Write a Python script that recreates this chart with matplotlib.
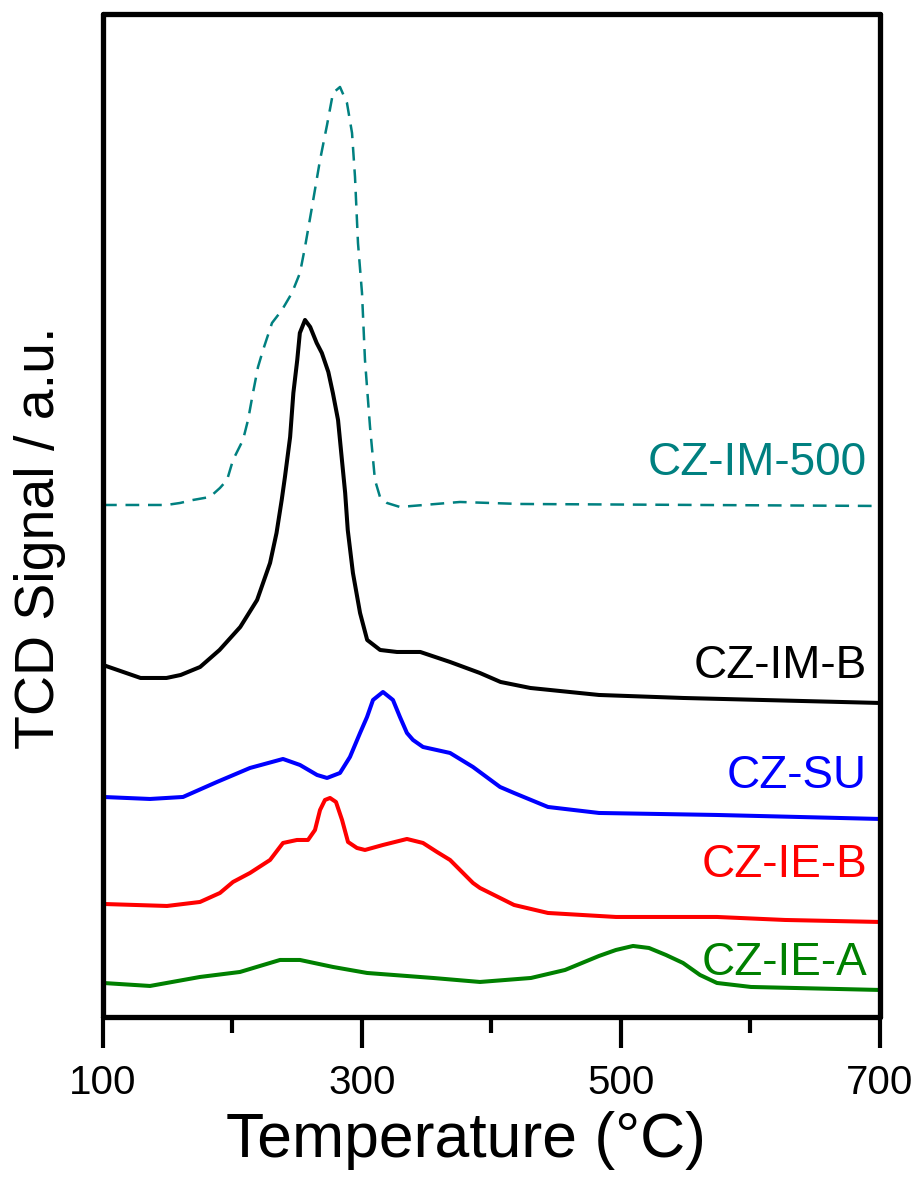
import numpy as np
import matplotlib
matplotlib.use("Agg")
from matplotlib import pyplot as plt

plt.rcParams["font.family"] = ["Liberation Sans", "DejaVu Sans"]

# CZ-IM-500 (dashed teal)
t_im500 = [100, 149, 159.5, 169.5, 182.6, 190.3, 195.8, 200.4, 208.1, 212, 215.8, 219.7,
           223.6, 230.5, 238.2, 245.9, 252.1, 256, 261.4, 267.6, 273, 277.6, 283, 288.4,
           292.3, 294.6, 296.9, 300, 302.3, 306.2, 310, 313.9, 319.3, 329.3, 375.7, 422, 700]
s_im500 = [512, 512, 514, 517, 520, 529, 537, 557, 577, 597, 624, 650,
           667, 694, 707, 724, 744, 770, 810, 857, 892, 924, 930, 914,
           884, 840, 774, 724, 657, 590, 537, 520, 514, 510, 515, 513, 511]

# CZ-IM-B (black)
t_imb = [100, 129, 149, 160, 175, 190, 206, 219, 229, 234, 238, 240.5, 244.5, 247, 250,
         252, 256, 260, 265, 269, 274, 277.5, 281.5, 284.5, 287, 289, 293, 298.5, 304,
         314, 327, 345, 368, 391, 407, 430, 483, 548, 700]
s_imb = [352, 339, 339, 342, 350, 367, 390, 417, 454, 484, 517, 540, 580, 624, 657,
         684, 697, 690, 674, 664, 645, 624, 597, 557, 524, 487, 444, 404, 377,
         367, 365, 365, 355, 344, 335, 329, 322, 319, 314]

# CZ-SU (blue)
t_su = [100, 136.3, 161.8, 188, 213.5, 239, 252.1, 265.3, 273, 283, 290.7, 298.5, 303.9,
        308.5, 316.2, 323.9, 329.3, 334.7, 339.4, 347.1, 368, 385.7, 406.6, 417.4, 443.6,
        483, 574.1, 700]
s_su = [220, 218, 220, 235, 249, 258, 252, 242, 239, 244, 260, 284, 300,
        317, 325, 317, 300, 284, 277, 270, 264, 250, 230, 224, 210,
        204, 202, 198]

# CZ-IE-B (red)
t_ieb = [100, 149.4, 174.9, 190.3, 200.4, 213.5, 229, 239, 249.8, 258.3, 263.7, 267.6,
         271.4, 275.3, 279.9, 284.6, 289.2, 296.1, 302.3, 316.2, 334.7, 347.1, 357.9, 368,
         385.7, 391.1, 406.6, 417.4, 443.6, 496.1, 574.1, 626.6, 700]
s_ieb = [113, 111, 115, 124, 135, 144, 157, 174, 177, 177, 187, 207,
         217, 219, 215, 197, 175, 169, 167, 172, 178, 174, 165, 157,
         134, 129, 119, 112, 104, 100, 100, 97, 95]

# CZ-IE-A (green)
t_iea = [100, 136.3, 174.9, 205.8, 221.2, 236.7, 252.1, 277.6, 303.9, 354.8, 391.1, 430.5,
         456.8, 469.9, 483, 496.1, 509.3, 521.6, 534.7, 547.9, 561, 574.1, 600.4, 700]
s_iea = [34, 31, 40, 45, 51, 57, 57, 50, 44, 39, 35, 39,
         47, 54, 61, 67, 71, 69, 62, 54, 42, 34, 30, 27]

labels = ["CZ-IM-500", "CZ-IM-B", "CZ-SU", "CZ-IE-B", "CZ-IE-A"]
label_y = [542, 339, 229, 140, 42]
colors = ["#008080", "black", "#0000ff", "#ff0000", "#008000"]

fig = plt.figure(figsize=(9.18, 11.85), dpi=100)
ax = fig.add_axes([0.1122, 0.1418, 0.8464, 0.8464])

ax.plot(t_im500, s_im500, color=colors[0], lw=1.8, ls=(0, (5.5, 3.5)))
ax.plot(t_imb, s_imb, color=colors[1], lw=2.9, solid_joinstyle="round")
ax.plot(t_su, s_su, color=colors[2], lw=2.9, solid_joinstyle="round")
ax.plot(t_ieb, s_ieb, color=colors[3], lw=2.9, solid_joinstyle="round")
ax.plot(t_iea, s_iea, color=colors[4], lw=2.9, solid_joinstyle="round")

for lab, yy, c in zip(labels, label_y, colors):
    ax.text(690, yy, lab, color=c, fontsize=33, ha="right", va="baseline")

ax.set_xlim(100, 700)
ax.set_ylim(0, 1003)
ax.set_xticks([100, 300, 500, 700])
ax.set_xticks([200, 400, 600], minor=True)
ax.set_yticks([])
ax.tick_params(axis="x", which="major", direction="out", length=22, width=3, pad=12,
               labelsize=29)
ax.tick_params(axis="x", which="minor", direction="out", length=11.5, width=3)
for sp in ax.spines.values():
    sp.set_linewidth(3.8)
    sp.set_capstyle("round")

ax.set_xlabel("Temperature (°C)", fontsize=45)
ax.xaxis.set_label_coords(0.467, -0.123)
ax.xaxis.label.set_verticalalignment("center")
ax.set_ylabel("TCD Signal / a.u.", fontsize=40)
ax.yaxis.set_label_coords(-0.081, 0.478)
ax.yaxis.label.set_verticalalignment("center")

fig.savefig("out.png", dpi=100)
